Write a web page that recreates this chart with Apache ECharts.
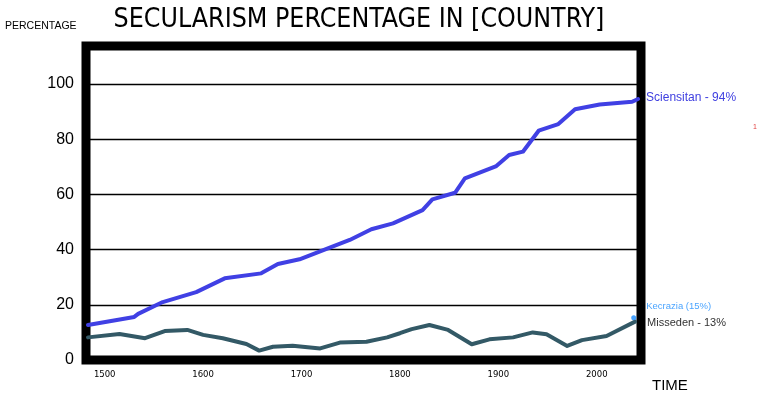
<!DOCTYPE html>
<html>
<head>
<meta charset="utf-8">
<script src="https://cdn.jsdelivr.net/npm/echarts@6/dist/echarts.min.js"></script>
<style>
  html, body { margin: 0; padding: 0; background: #fff; }
  #chart { width: 767px; height: 398px; }
</style>
</head>
<body>
<div id="chart"></div>
<script>
// Sciensitan
const sciYears = [1483, 1530, 1534, 1559, 1593, 1622, 1659, 1676, 1698, 1749, 1771, 1793, 1823, 1833, 1856, 1866, 1898, 1911, 1925, 1941, 1961, 1978, 2003, 2036, 2042];
const sciValues = [12.7, 15.6, 16.7, 21.0, 24.6, 29.6, 31.4, 34.8, 36.5, 43.5, 47.4, 49.5, 54.3, 58.2, 60.6, 65.8, 70.3, 74.3, 75.5, 83.1, 85.5, 90.9, 92.6, 93.6, 94.6];
// Misseden
const misYears = [1483, 1515, 1541, 1561, 1584, 1600, 1620, 1644, 1657, 1671, 1691, 1719, 1739, 1766, 1787, 1800, 1812, 1830, 1849, 1873, 1891, 1915, 1935, 1949, 1970, 1985, 2010, 2039];
const misValues = [8.2, 9.4, 7.9, 10.5, 10.9, 9.1, 7.9, 5.8, 3.4, 4.8, 5.2, 4.2, 6.3, 6.6, 8.2, 9.7, 11.2, 12.7, 10.9, 5.7, 7.5, 8.2, 10.0, 9.3, 5.1, 7.2, 8.7, 13.9];
// Kecrazia (single point)
const kecYears = [2037.6];
const kecValues = [15.3];

const xTickLabels = [1500, 1600, 1700, 1800, 1900, 2000];
const yTickLabels = [0, 20, 40, 60, 80, 100];

const toPairs = (xs, ys) => xs.map((x, i) => [x, ys[i]]);

const chart = echarts.init(document.getElementById('chart'));

chart.setOption({
  animation: false,
  backgroundColor: '#fff',
  title: {
    text: 'SECULARISM PERCENTAGE IN [COUNTRY]',
    left: 354, top: 2, textAlign: 'center',
    textStyle: { fontFamily: 'DejaVu Sans Condensed', fontSize: 26.5, fontWeight: 'normal', color: '#000' }
  },
  graphic: [
    { type: 'text', left: 5, top: 21, style: { text: 'PERCENTAGE', font: '10.5px "Liberation Sans"', fill: '#000' } },
    { type: 'text', left: 652, top: 378, style: { text: 'TIME', font: '15px "Liberation Sans"', fill: '#000' } },
    { type: 'text', left: 753, top: 124, style: { text: '1', font: '7px "Liberation Sans"', fill: '#e04040' } }
  ],
  grid: {
    left: 86, right: 126, top: 46, bottom: 38,
    show: true, borderColor: '#000', borderWidth: 9
  },
  xAxis: {
    type: 'value', min: 1481, max: 2045,
    axisLine: { show: false }, axisTick: { show: false }, splitLine: { show: false },
    axisLabel: {
      customValues: xTickLabels, margin: 10,
      formatter: v => String(v),
      fontFamily: 'DejaVu Sans', fontSize: 8.5, color: '#000'
    }
  },
  yAxis: {
    type: 'value', min: 0, max: 113.8, interval: 20,
    axisLine: { show: false }, axisTick: { show: false },
    splitLine: { show: true, lineStyle: { color: '#000', width: 1.3 } },
    axisLabel: {
      customValues: yTickLabels, margin: 12,
      formatter: v => String(v),
      fontFamily: 'Liberation Sans', fontSize: 16, color: '#000'
    }
  },
  series: [
    {
      name: 'Sciensitan', type: 'line', data: toPairs(sciYears, sciValues),
      showSymbol: false, z: 5,
      lineStyle: { color: '#4040e4', width: 4, cap: 'round', join: 'round' },
      endLabel: { show: true, formatter: 'Sciensitan - 94%', distance: 8, offset: [0, -1],
        fontFamily: 'Liberation Sans', fontSize: 12, color: '#4040e0' }
    },
    {
      name: 'Misseden', type: 'line', data: toPairs(misYears, misValues),
      showSymbol: false, z: 4,
      lineStyle: { color: '#335966', width: 4, cap: 'round', join: 'round' },
      endLabel: { show: true, formatter: 'Misseden - 13%', distance: 12, offset: [0, 1],
        fontFamily: 'Liberation Sans', fontSize: 11, color: '#333' }
    },
    {
      name: 'Kecrazia', type: 'scatter', data: toPairs(kecYears, kecValues),
      symbolSize: 5, z: 6,
      itemStyle: { color: '#1a8cff' },
      label: { show: true, position: 'right', formatter: 'Kecrazia (15%)', distance: 10, offset: [0, -11],
        fontFamily: 'Liberation Sans', fontSize: 9.5, color: '#1a8cff' }
    }
  ]
});
</script>
</body>
</html>
